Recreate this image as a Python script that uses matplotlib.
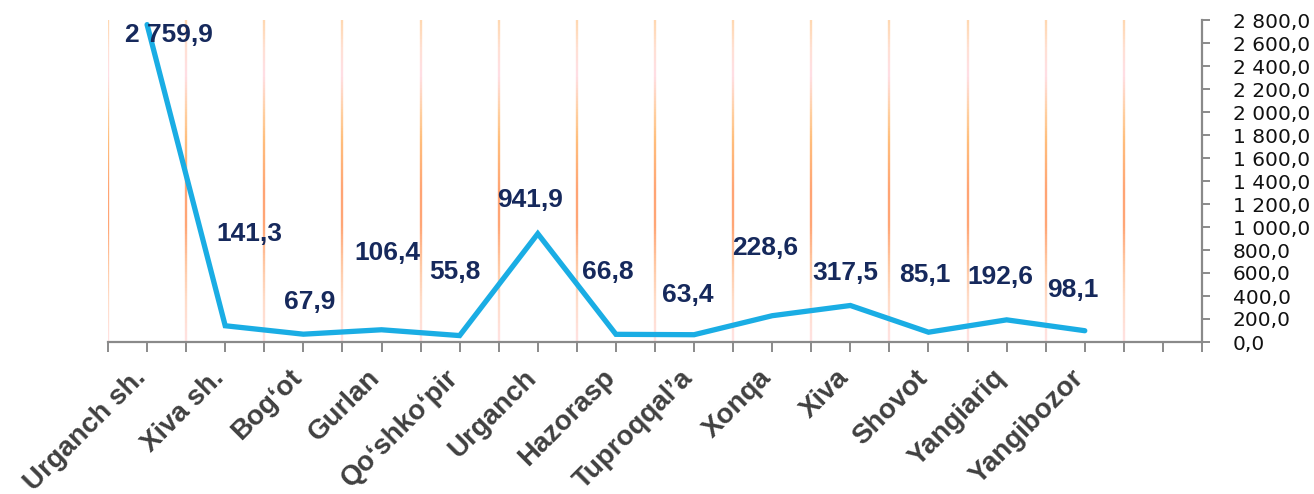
import matplotlib
matplotlib.use("Agg")
from matplotlib import pyplot as plt
from matplotlib.collections import LineCollection
from matplotlib.colors import LinearSegmentedColormap
import numpy as np

districts = ["Urganch sh.", "Xiva sh.", "Bog\u2018ot", "Gurlan", "Qo\u2018shko\u2018pir",
             "Urganch", "Hazorasp", "Tuproqqal\u2019a", "Xonqa", "Xiva", "Shovot",
             "Yangiariq", "Yangibozor"]
values = [2759.9, 141.3, 67.9, 106.4, 55.8, 941.9, 66.8, 63.4, 228.6, 317.5, 85.1, 192.6, 98.1]

# where each value label sits (category offset, height in data units)
label_dx = [0.28, 0.31, 0.08, 0.08, -0.06, -0.10, -0.10, -0.08, -0.09, -0.06, -0.05, -0.08, -0.15]
label_y = [2669, 939, 348, 774, 609, 1235, 609, 409, 817, 600, 583, 565, 452]

n_slots = 14  # one empty slot on the right

def fmt(v):
    return f"{v:,.1f}".replace(",", " ").replace(".", ",")

fig = plt.figure(figsize=(13.14, 4.94), dpi=100)
ax = fig.add_axes([108 / 1314, 1 - 342 / 494, (1202 - 108) / 1314, (342 - 20) / 494])

ymax = 2800
ax.set_xlim(-0.5, n_slots - 0.5)
ax.set_ylim(0, ymax)

# vertical gradient gridlines on the category boundaries
grad = LinearSegmentedColormap.from_list("grid", [
    (0.00, "#ffe2e2"), (0.13, "#ffdcc8"), (0.24, "#ffc8a4"), (0.36, "#ffa676"),
    (0.47, "#ffa474"), (0.63, "#ffbe7c"), (0.72, "#ffd0a4"), (0.83, "#ffdee6"),
    (0.91, "#ffe0d4"), (1.00, "#ffd8b0")])
ys = np.linspace(0, ymax, 120)
segs, cols = [], []
for b in np.arange(-0.5, n_slots - 0.5, 1.0):
    for y0, y1 in zip(ys[:-1], ys[1:]):
        segs.append([(b, y0), (b, y1)])
        cols.append(grad((y0 + y1) / 2 / ymax))
ax.add_collection(LineCollection(segs, colors=cols, linewidths=1.7, zorder=1))

x = np.arange(len(values))
ax.plot(x, values, color="#1aade4", lw=3.8, solid_capstyle="round",
        solid_joinstyle="miter", zorder=3)

for i, v in enumerate(values):
    ax.text(i + label_dx[i], label_y[i], fmt(v), ha="center", va="center",
            fontsize=19, fontweight="bold", family="Liberation Sans",
            color="#16295c", zorder=4)

# axes styling
for s in ["top", "left"]:
    ax.spines[s].set_visible(False)
for s in ["bottom", "right"]:
    ax.spines[s].set_color("#8a8a8a")
    ax.spines[s].set_linewidth(1.6)

ax.set_xticks(np.arange(-0.5, n_slots, 0.5))
ax.set_xticklabels([])
ax.tick_params(axis="x", length=7, width=1.4, color="#8a8a8a")
for i, name in enumerate(districts):
    ax.annotate(name, xy=(i, 0), xycoords=("data", "axes fraction"),
                xytext=(0, -37), textcoords="offset pixels",
                rotation=45, rotation_mode="anchor", ha="right", va="baseline",
                fontsize=20, fontweight="bold", family="Liberation Sans",
                color="#404040")

ax.yaxis.tick_right()
ax.set_yticks(np.arange(0, ymax + 1, 200))
ax.set_yticklabels([fmt(v) for v in np.arange(0, ymax + 1, 200)])
ax.tick_params(axis="y", length=6, width=1.4, color="#8a8a8a", pad=16,
               labelsize=14.5, labelcolor="#111111")

fig.savefig("out.png", dpi=100)
